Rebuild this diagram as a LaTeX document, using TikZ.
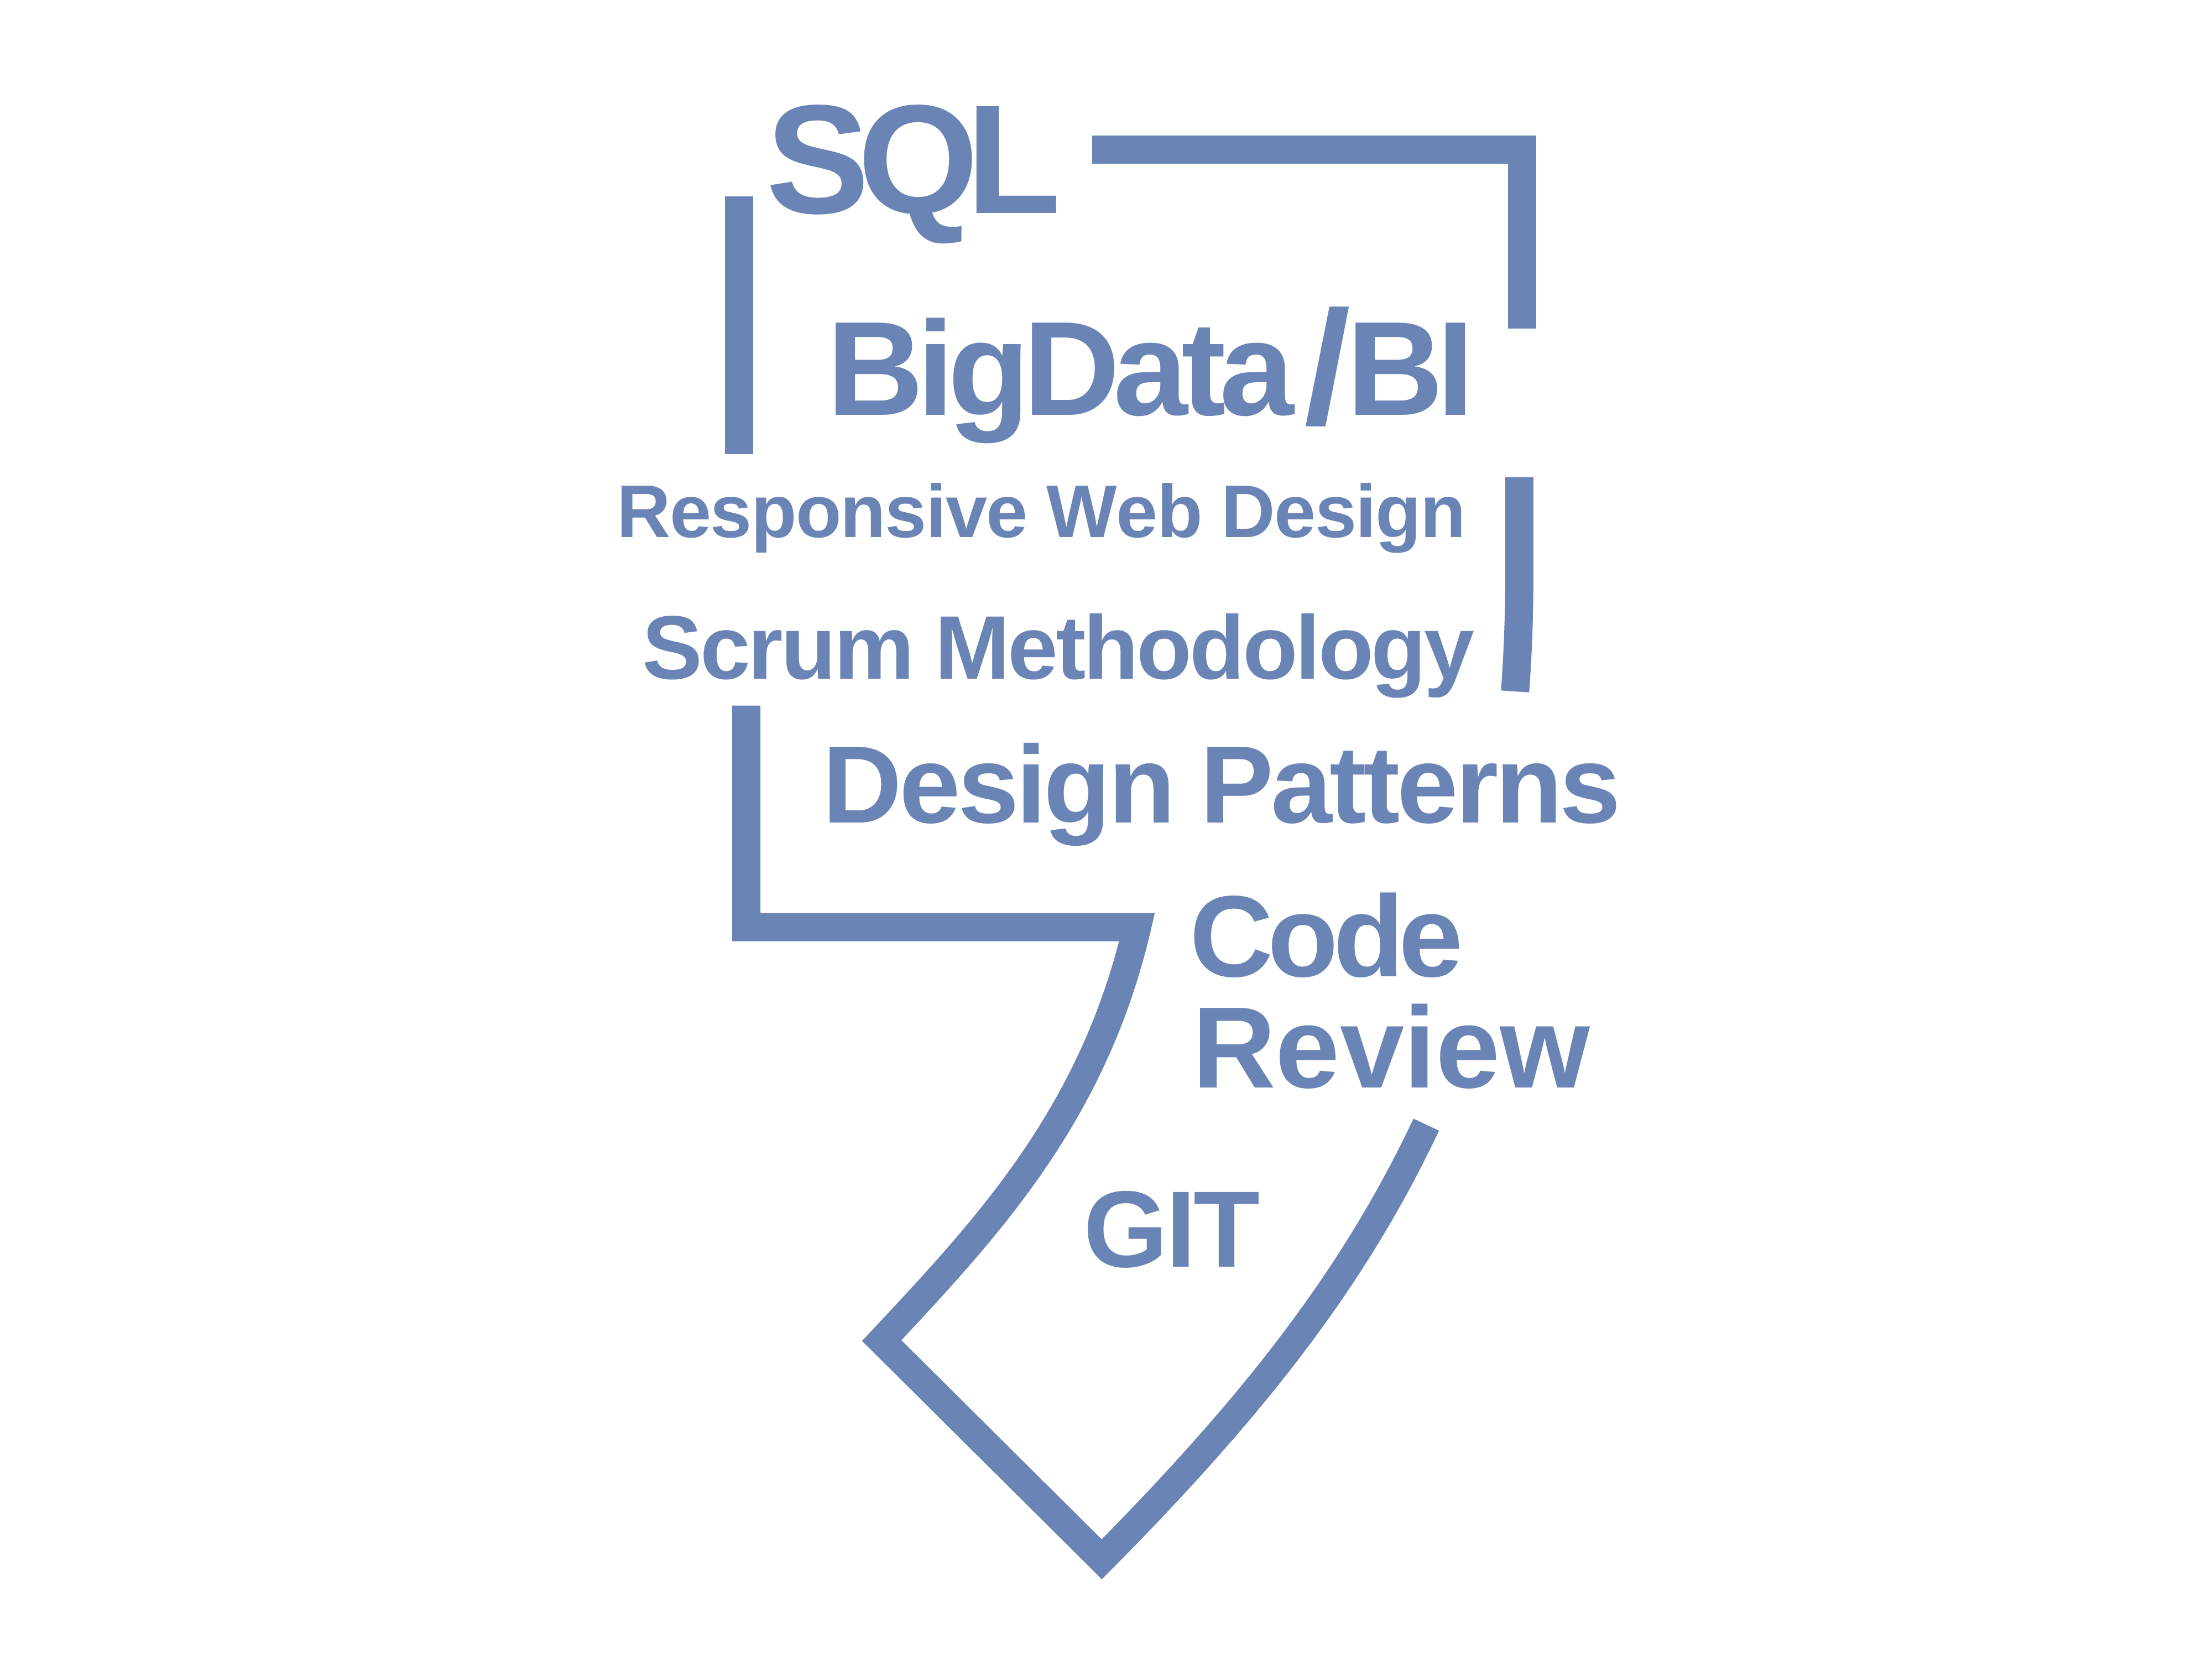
\documentclass[tikz,border=0pt]{standalone}
\usepackage{fontspec}
\setmainfont{Liberation Sans}
\definecolor{mainblue}{HTML}{6A85B5}
\newdimen\lsp
\newcount\lscnt
\def\lscount#1{\ifx#1\relax\else\advance\lscnt1 \expandafter\lscount\fi}
\def\lsout#1{\ifx#1\relax\else#1\kern\lsp\expandafter\lsout\fi}
\newsavebox\lsbox
\newcommand\fitw[2]{\sbox\lsbox{#2}\lscnt=0 \lscount#2\relax\advance\lscnt-1 \lsp=#1\relax\advance\lsp-\wd\lsbox\divide\lsp\lscnt\lsout#2\relax}
\newcommand\myslash{\kern12pt\raisebox{-6pt}{\scalebox{1.25}[1.2]{/}}\kern2pt}
\tikzset{
  bar/.style={draw=mainblue, line width=20pt, line join=miter, miter limit=20},
  lbl/.style={text=mainblue, inner sep=0pt, anchor=base west},
}
\newcommand\fs[1]{\bfseries\fontsize{#1}{#1}\selectfont}
\begin{document}
\begin{tikzpicture}[x=1pt,y=-1pt]
\useasboundingbox (0,0) rectangle (1568,1176);
% bars
\draw[bar] (524,139) -- (524,322);
\draw[bar] (774,106) -- (1079,106) -- (1079,233);
\draw[bar] (1077,338) -- (1077,400) .. controls (1077,440) and (1076,460) .. (1074,490);
\draw[bar] (529,500) -- (529,657) -- (806,657) .. controls (775,790) and (700,870) .. (625,950) -- (781,1105) .. controls (890,995) and (960,905) .. (1011,797);
% texts
\node[lbl, font=\fs{110}] (sql) at (543,151) {\fitw{209pt}{SQL}};
\node[lbl, font=\fs{95}] (bigdata) at (586,294) {\fitw{459pt}{BigData\myslash BI}};
\node[lbl, font=\fs{53}] (rwd) at (437,381) {\fitw{601pt}{Responsive\ Web\ Design}};
\node[lbl, font=\fs{64}] (scrum) at (455,481) {\fitw{590pt}{Scrum\ Methodology}};
\node[lbl, font=\fs{78}] (dp) at (583,583) {\fitw{566pt}{Design\ Patterns}};
\node[lbl, font=\fs{82}] (code) at (843,692) {\fitw{194pt}{Code}};
\node[lbl, font=\fs{82}] (review) at (845,771) {\fitw{282pt}{Review}};
\node[lbl, font=\fs{77}] (git) at (768,898) {\fitw{125pt}{GIT}};
\end{tikzpicture}
\end{document}
